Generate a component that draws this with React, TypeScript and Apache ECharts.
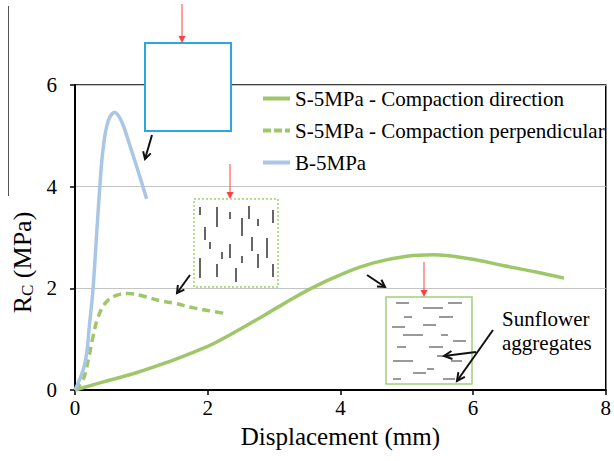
import React, { useEffect, useRef } from "react";
import * as echarts from "echarts";

// Displacement (mm) / Rc (MPa)
const dirX = [0, 0.4, 0.9, 1.4, 1.8, 2.1, 2.6, 3.1, 3.56, 4.06, 4.5, 5.0, 5.4, 5.95, 6.45, 6.95, 7.37];
const dirY = [0, 0.15, 0.33, 0.55, 0.75, 0.92, 1.28, 1.66, 2.0, 2.3, 2.5, 2.63, 2.66, 2.58, 2.45, 2.32, 2.2];
const perpX = [0, 0.12, 0.2, 0.27, 0.35, 0.47, 0.62, 0.8, 1.02, 1.27, 1.52, 1.77, 2.02, 2.29];
const perpY = [0, 0.2, 0.59, 1.04, 1.44, 1.73, 1.86, 1.9, 1.85, 1.76, 1.7, 1.62, 1.56, 1.5];
const bX = [0, 0.15, 0.22, 0.27, 0.32, 0.37, 0.42, 0.5, 0.6, 0.7, 0.82, 0.95, 1.08];
const bY = [0, 0.53, 1.31, 1.96, 2.94, 3.92, 4.7, 5.29, 5.46, 5.29, 4.84, 4.31, 3.76];

const seriesNames = [
  "S-5MPa - Compaction direction",
  "S-5MPa - Compaction perpendicular",
  "B-5MPa",
];
const xTicks = [0, 2, 4, 6, 8];
const yTicks = [0, 2, 4, 6];

const FONT = "Liberation Serif";
const GREEN = "#9fc76a";
const BLUE = "#a9c6e6";

const pair = (xs: number[], ys: number[]) => xs.map((x, i) => [x, ys[i]]);
const richStyle = (size: number) => ({ fontFamily: FONT, fontSize: size, color: "#000" });

function arrowFilled(x1: number, y1: number, x2: number, y2: number, color: string, lw: number, hl: number, hw: number) {
  const dx = x2 - x1, dy = y2 - y1, L = Math.hypot(dx, dy);
  const ux = dx / L, uy = dy / L, px = -uy, py = ux;
  const bx = x2 - ux * hl, by = y2 - uy * hl;
  return [
    { type: "line", z: 100, shape: { x1, y1, x2: bx, y2: by }, style: { stroke: color, lineWidth: lw } },
    { type: "polygon", z: 100, shape: { points: [[x2, y2], [bx + px * hw, by + py * hw], [bx - px * hw, by - py * hw]] }, style: { fill: color } },
  ];
}
function arrowOpen(x1: number, y1: number, x2: number, y2: number, color: string, lw: number, hl: number, hw: number) {
  const dx = x2 - x1, dy = y2 - y1, L = Math.hypot(dx, dy);
  const ux = dx / L, uy = dy / L, px = -uy, py = ux;
  const bx = x2 - ux * hl, by = y2 - uy * hl;
  return [
    { type: "line", z: 100, shape: { x1, y1, x2, y2 }, style: { stroke: color, lineWidth: lw } },
    { type: "polyline", z: 100, shape: { points: [[bx + px * hw, by + py * hw], [x2, y2], [bx - px * hw, by - py * hw]] }, style: { stroke: color, lineWidth: lw, fill: "none" } },
  ];
}

function buildOption() {
  const vDashes = [
    [200, 207, 215], [217, 207, 227], [230, 212, 219], [249, 206, 219], [273, 210, 223],
    [242, 218, 236], [258, 219, 226], [205, 227, 240], [210, 242, 249], [230, 244, 258],
    [252, 237, 251], [267, 238, 258], [222, 252, 259], [200, 258, 278], [217, 264, 277],
    [236, 268, 282], [242, 256, 263], [258, 254, 268], [273, 264, 277],
  ];
  const hDashes = [
    [303, 396, 409], [308, 423, 443], [303, 448, 462], [317, 404, 412], [317, 439, 453],
    [325, 423, 436], [327, 392, 405], [335, 403, 423], [335, 441, 448], [341, 453, 466],
    [347, 397, 406], [347, 429, 443], [356, 437, 450], [361, 393, 413], [361, 451, 462],
    [369, 427, 434], [373, 413, 426], [379, 393, 401], [379, 443, 455],
  ];
  const graphics: any[] = [
    { type: "line", z: 100, shape: { x1: 8.5, y1: 6, x2: 8.5, y2: 196 }, style: { stroke: "#555", lineWidth: 1 } },
    { type: "rect", z: 99, shape: { x: 145, y: 43, width: 86, height: 88 }, style: { fill: "#fff", stroke: "#2aa7df", lineWidth: 2 } },
    ...arrowFilled(182, 4, 182, 43, "#ff4040", 1, 7, 3.5),
    ...arrowOpen(152, 135, 145, 159, "#111", 2, 7, 4),
    { type: "rect", z: 99, shape: { x: 194, y: 199, width: 84, height: 88 }, style: { fill: "#fff", stroke: "#9fd36a", lineWidth: 1.5, lineDash: [2, 2] } },
    ...arrowFilled(230, 164, 230, 199, "#ff4040", 1, 7, 3.5),
    ...arrowOpen(190, 275, 177, 293, "#111", 2, 7, 4),
    ...vDashes.map((d) => ({ type: "line", z: 100, shape: { x1: d[0], y1: d[1], x2: d[0], y2: d[2] }, style: { stroke: "#666", lineWidth: 2 } })),
    { type: "rect", z: 99, shape: { x: 386, y: 297, width: 86, height: 87 }, style: { fill: "#fff", stroke: "#a3d07a", lineWidth: 1.5 } },
    ...arrowFilled(424, 262, 424, 297, "#ff4040", 1, 7, 3.5),
    ...arrowOpen(367, 275, 385, 287, "#111", 2, 7, 4),
    ...hDashes.map((d) => ({ type: "line", z: 100, shape: { x1: d[1], y1: d[0], x2: d[2], y2: d[0] }, style: { stroke: "#777", lineWidth: 1.5 } })),
    ...arrowOpen(493, 330, 457, 381, "#111", 2, 8, 4),
    ...arrowOpen(476, 352, 444, 356, "#111", 2, 8, 4),
    { type: "text", z: 100, x: 502, y: 319, style: { text: "{a|Sunflower}", rich: { a: richStyle(21) }, fontFamily: FONT, fontSize: 21, fill: "#000", verticalAlign: "middle" } },
    { type: "text", z: 100, x: 502, y: 343, style: { text: "{a|aggregates}", rich: { a: richStyle(21) }, fontFamily: FONT, fontSize: 21, fill: "#000", verticalAlign: "middle" } },
  ];

  const solidIcon = "path://M0,0h27v4H0z";
  const dashIcon = "path://M0,0h8v4H0zM11,0h8v4h-8zM22,0h5v4h-5z";

  return {
    animation: false,
    backgroundColor: "#fff",
    textStyle: { fontFamily: FONT },
    grid: { left: 75, right: 4, top: 85, bottom: 71, show: true, borderColor: "#000", borderWidth: 1.5, backgroundColor: "transparent" },
    legend: {
      orient: "vertical",
      left: 258,
      top: 83,
      itemWidth: 27,
      itemHeight: 4,
      itemGap: 11,
      data: [
        { name: seriesNames[0], icon: solidIcon },
        { name: seriesNames[1], icon: dashIcon },
        { name: seriesNames[2], icon: solidIcon },
      ],
      formatter: (name: string) => `{a|${name}}`,
      textStyle: { fontFamily: FONT, fontSize: 21, color: "#000", rich: { a: richStyle(21) } },
    },
    xAxis: {
      type: "value",
      min: xTicks[0],
      max: xTicks[xTicks.length - 1],
      interval: 2,
      name: "{a|Displacement (mm)}",
      nameLocation: "middle",
      nameGap: 34,
      nameTextStyle: { fontFamily: FONT, fontSize: 25, color: "#000", rich: { a: richStyle(25) } },
      axisLine: { show: true, onZero: false, lineStyle: { color: "#000", width: 2 } },
      axisTick: { show: true, inside: false, length: 5, lineStyle: { color: "#000", width: 1.5 } },
      axisLabel: { fontFamily: FONT, fontSize: 21, color: "#000", margin: 7, formatter: (v: number) => `{a|${v}}`, rich: { a: richStyle(21) } },
      splitLine: { show: false },
    },
    yAxis: {
      type: "value",
      min: yTicks[0],
      max: yTicks[yTicks.length - 1],
      interval: 2,
      name: "{r|R}{s|C}{r| (MPa)}",
      nameLocation: "middle",
      nameGap: 32,
      nameRotate: 90,
      nameTextStyle: {
        fontFamily: FONT,
        color: "#000",
        padding: [0, 50, 0, 0],
        rich: {
          r: { fontFamily: FONT, fontSize: 26, color: "#000", lineHeight: 30 },
          s: { fontFamily: FONT, fontSize: 17, color: "#000", lineHeight: 30, padding: [10, 0, 0, 0] },
        },
      },
      axisLine: { show: true, onZero: false, lineStyle: { color: "#000", width: 2 } },
      axisTick: { show: true, inside: false, length: 5, lineStyle: { color: "#000", width: 1.5 } },
      axisLabel: { fontFamily: FONT, fontSize: 21, color: "#000", margin: 18, formatter: (v: number) => `{a|${v}}`, rich: { a: richStyle(21) } },
      splitLine: { show: true, lineStyle: { color: "#c4c4c4", width: 1 } },
    },
    series: [
      { name: seriesNames[0], type: "line", data: pair(dirX, dirY), smooth: 0.4, symbol: "none", lineStyle: { color: GREEN, width: 3.5 }, itemStyle: { color: GREEN }, z: 3 },
      { name: seriesNames[1], type: "line", data: pair(perpX, perpY), smooth: 0.4, symbol: "none", lineStyle: { color: GREEN, width: 3.5, type: [8, 5] }, itemStyle: { color: GREEN }, z: 3 },
      { name: seriesNames[2], type: "line", data: pair(bX, bY), smooth: 0.4, symbol: "none", lineStyle: { color: BLUE, width: 3.5 }, itemStyle: { color: BLUE }, z: 3 },
    ],
    graphic: graphics,
  };
}

export default function App() {
  const ref = useRef<HTMLDivElement>(null);
  useEffect(() => {
    if (!ref.current) return;
    const chart = echarts.init(ref.current, undefined, { renderer: "svg" });
    chart.setOption(buildOption() as any);
    return () => chart.dispose();
  }, []);
  return <div ref={ref} style={{ width: 614, height: 461, position: "absolute", left: 0, top: 0 }} />;
}
